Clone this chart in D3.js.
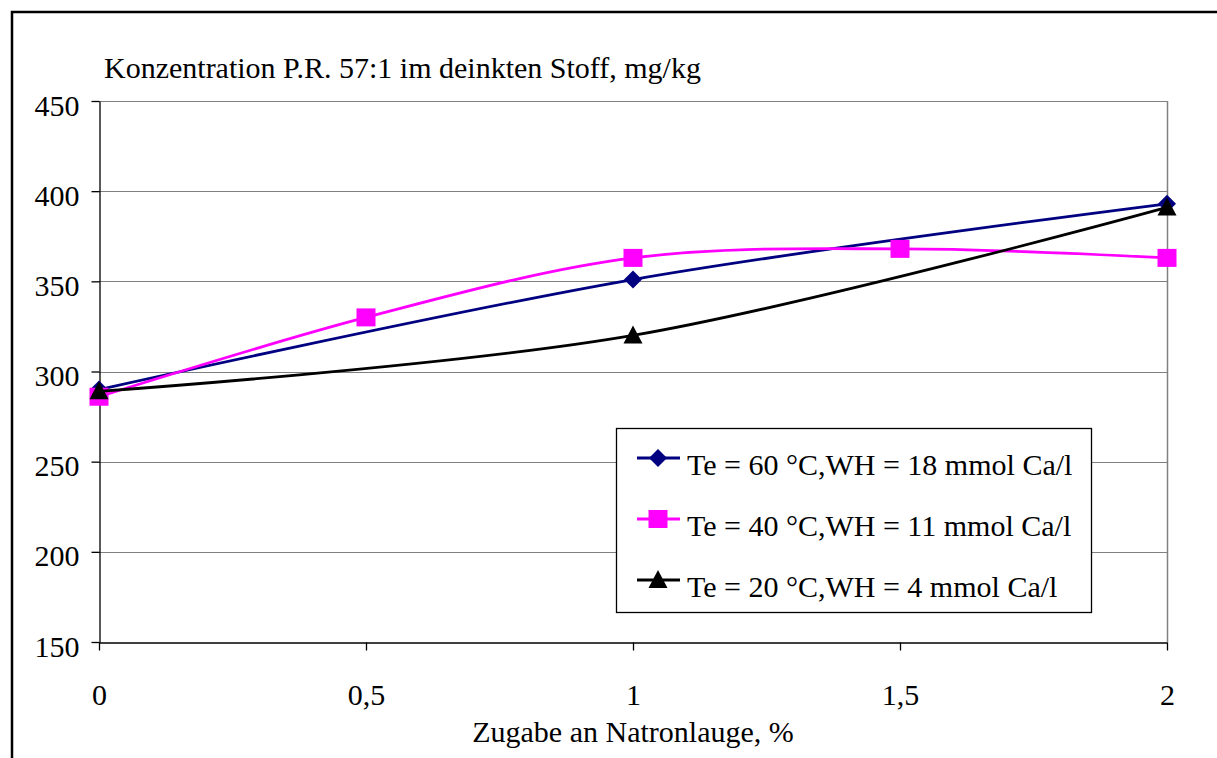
<!DOCTYPE html>
<html>
<head>
<meta charset="utf-8">
<script src="https://cdn.jsdelivr.net/npm/d3@7"></script>
<style>
  body { margin: 0; background: #fff; }
  svg { display: block; font-family: "Liberation Serif", "Times New Roman", serif; }
</style>
</head>
<body>
<svg id="chart" width="1217" height="758"></svg>
<script>
// data
var xTicks = [0, 0.5, 1, 1.5, 2];
var yTicks = [150, 200, 250, 300, 350, 400, 450];
var xTickLabels = ["0", "0,5", "1", "1,5", "2"];

var blueX = [0, 1, 2];
var blueY = [290, 351, 393];
var pinkX = [0, 0.5, 1, 1.5, 2];
var pinkY = [286, 330, 363, 368, 363];
var blackX = [0, 1, 2];
var blackY = [289, 320, 391];

var seriesNames = [
    "Te = 60 °C,WH = 18 mmol Ca/l",
    "Te = 40 °C,WH = 11 mmol Ca/l",
    "Te = 20 °C,WH = 4 mmol Ca/l"
];

var svg = d3.select("#chart");

// outer frame (only left/top are visible in the picture)
svg.append("rect")
    .attr("x", 12).attr("y", 12)
    .attr("width", 1400).attr("height", 900)
    .style("fill", "none")
    .style("stroke", "black")
    .style("stroke-width", 2.5);

var plotLeft = 99, plotRight = 1167, plotTop = 101, plotBottom = 642;

var x = d3.scaleLinear().domain([0, 2]).range([plotLeft, plotRight]);
var y = d3.scaleLinear().domain([150, 450]).range([plotBottom, plotTop]);

// gridlines
svg.append("g").selectAll("line")
    .data(yTicks.filter(function(d){ return d > 150; }))
    .enter().append("line")
    .attr("x1", plotLeft).attr("x2", plotRight)
    .attr("y1", function(d){ return Math.round(y(d)) + 0.5; })
    .attr("y2", function(d){ return Math.round(y(d)) + 0.5; })
    .style("stroke", "#808080")
    .style("stroke-width", 1.2);

// right border of plot area
svg.append("line")
    .attr("x1", plotRight + 0.5).attr("x2", plotRight + 0.5)
    .attr("y1", plotTop).attr("y2", plotBottom)
    .style("stroke", "#808080")
    .style("stroke-width", 1.5);

// y axis
var yAxis = d3.axisLeft(y).tickValues(yTicks).tickSize(8).tickSizeOuter(0).tickPadding(12);
var gy = svg.append("g")
    .attr("transform", "translate(" + (plotLeft + 0.5) + ",0)")
    .call(yAxis);
gy.selectAll("text")
    .attr("dy", 14)
    .style("font-size", "30px").style("fill", "black")
    .style("font-family", "Liberation Serif");
gy.selectAll("line, path").style("stroke", "black").style("stroke-width", 1.3);

// x axis
var xAxis = d3.axisBottom(x).tickValues(xTicks)
    .tickFormat(function(d, i){ return xTickLabels[i]; })
    .tickSize(8).tickSizeOuter(0).tickPadding(33);
var gx = svg.append("g")
    .attr("transform", "translate(0," + (plotBottom + 0.5) + ")")
    .call(xAxis);
gx.selectAll("text").style("font-size", "30px").style("fill", "black")
    .style("font-family", "Liberation Serif");
gx.selectAll("line, path").style("stroke", "black").style("stroke-width", 1.3);

// titles
svg.append("text")
    .attr("x", 104).attr("y", 78)
    .style("font-size", "30px")
    .text("Konzentration P.R. 57:1 im deinkten Stoff, mg/kg");

svg.append("text")
    .attr("x", 633).attr("y", 742)
    .attr("text-anchor", "middle")
    .style("font-size", "30px")
    .text("Zugabe an Natronlauge, %");

// lines
var line = d3.line()
    .x(function(d){ return x(d[0]); })
    .y(function(d){ return y(d[1]); })
    .curve(d3.curveCardinal.tension(0));

function drawSeries(xs, ys, color, marker){
    var pts = xs.map(function(v, i){ return [v, ys[i]]; });
    svg.append("path")
        .datum(pts)
        .attr("d", line)
        .style("fill", "none")
        .style("stroke", color)
        .style("stroke-width", 2.8);
    pts.forEach(function(p){
        drawMarker(x(p[0]), y(p[1]), color, marker);
    });
}

function drawMarker(cx, cy, color, marker){
    if(marker == "diamond"){
        svg.append("path")
            .attr("d", "M" + cx + " " + (cy - 9) + " L" + (cx + 9) + " " + cy + " L" + cx + " " + (cy + 9) + " L" + (cx - 9) + " " + cy + " Z")
            .style("fill", color);
    }else if(marker == "square"){
        svg.append("rect")
            .attr("x", cx - 9.5).attr("y", cy - 9)
            .attr("width", 19).attr("height", 18)
            .style("fill", color);
    }else{
        svg.append("path")
            .attr("d", "M" + cx + " " + (cy - 10) + " L" + (cx + 9.5) + " " + (cy + 8) + " L" + (cx - 9.5) + " " + (cy + 8) + " Z")
            .style("fill", color);
    }
}

drawSeries(blueX, blueY, "#000080", "diamond");
drawSeries(pinkX, pinkY, "#ff00ff", "square");
drawSeries(blackX, blackY, "#000000", "triangle");

// legend
var lg = svg.append("g");
lg.append("rect")
    .attr("x", 616.5).attr("y", 428.5)
    .attr("width", 475).attr("height", 184)
    .style("fill", "white")
    .style("stroke", "black")
    .style("stroke-width", 1.3);

var legendColors = ["#000080", "#ff00ff", "#000000"];
var legendMarkers = ["diamond", "square", "triangle"];
var legendY = [458, 519, 580];
seriesNames.forEach(function(name, i){
    lg.append("line")
        .attr("x1", 637).attr("x2", 680)
        .attr("y1", legendY[i]).attr("y2", legendY[i])
        .style("stroke", legendColors[i])
        .style("stroke-width", 2.8);
    drawMarker(658, legendY[i], legendColors[i], legendMarkers[i]);
    lg.append("text")
        .attr("x", 687).attr("y", legendY[i] + 17)
        .style("font-size", "30px")
        .text(name);
});
</script>
</body>
</html>
